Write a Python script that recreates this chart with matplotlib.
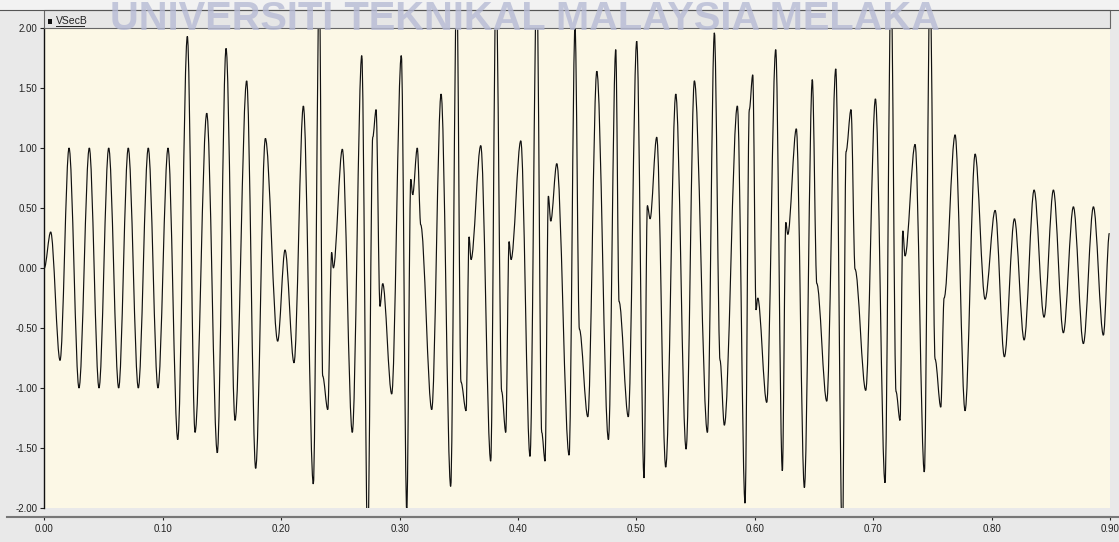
import numpy as np
import matplotlib
matplotlib.use("Agg")
import matplotlib.pyplot as plt
from matplotlib.path import Path
from matplotlib.patches import PathPatch, Rectangle
from matplotlib.lines import Line2D

# extrema (and small notches) of VSecB: time in s, value in pu
t_ext = [
    0.0000, 0.0054, 0.0133, 0.0209, 0.0293, 0.0380, 0.0462, 0.0544, 0.0628, 0.0709,
    0.0794, 0.0878, 0.0960, 0.1045, 0.1127, 0.1208, 0.1273, 0.1372, 0.1461, 0.1535,
    0.1611, 0.1709, 0.1785, 0.1867, 0.1971, 0.2033, 0.2109, 0.2188, 0.2272, 0.2323,
    0.2351, 0.2394, 0.2427, 0.2441, 0.2517, 0.2601, 0.2681, 0.2731, 0.2774, 0.2802,
    0.2835, 0.2858, 0.2934, 0.3015, 0.3061, 0.3095, 0.3111, 0.3150, 0.3179, 0.3272,
    0.3351, 0.3432, 0.3483, 0.3519, 0.3562, 0.3587, 0.3604, 0.3686, 0.3770, 0.3815,
    0.3863, 0.3897, 0.3925, 0.3942, 0.4024, 0.4102, 0.4159, 0.4201, 0.4229, 0.4257,
    0.4277, 0.4328, 0.4432, 0.4482, 0.4519, 0.4590, 0.4666, 0.4764, 0.4826, 0.4854,
    0.4932, 0.5003, 0.5065, 0.5093, 0.5116, 0.5172, 0.5248, 0.5333, 0.5420, 0.5490,
    0.5600, 0.5659, 0.5707, 0.5743, 0.5853, 0.5918, 0.5954, 0.5983, 0.6011, 0.6025,
    0.6101, 0.6177, 0.6233, 0.6262, 0.6279, 0.6351, 0.6419, 0.6486, 0.6524, 0.6608,
    0.6684, 0.6740, 0.6771, 0.6813, 0.6847, 0.6937, 0.7019, 0.7100, 0.7151, 0.7193,
    0.7227, 0.7250, 0.7269, 0.7354, 0.7432, 0.7480, 0.7523, 0.7571, 0.7599, 0.7692,
    0.7776, 0.7861, 0.7945, 0.8030, 0.8108, 0.8193, 0.8275, 0.8359, 0.8443, 0.8522,
    0.8606, 0.8691, 0.8775, 0.8860, 0.8944, 0.8995,
]
v_ext = [
    0.00, 0.30, -0.77, 1.00, -1.00, 1.00, -1.00, 1.00, -1.00, 1.00,
    -1.00, 1.00, -1.00, 1.00, -1.43, 1.93, -1.37, 1.29, -1.54, 1.83,
    -1.27, 1.56, -1.67, 1.08, -0.61, 0.15, -0.79, 1.35, -1.80, 2.40,
    -0.90, -1.18, 0.13, 0.00, 0.99, -1.37, 1.77, -2.30, 1.09, 1.32,
    -0.32, -0.13, -1.05, 1.77, -2.02, 0.74, 0.61, 1.00, 0.36, -1.18,
    1.45, -1.82, 2.40, -0.95, -1.19, 0.26, 0.07, 1.02, -1.61, 2.40,
    -1.03, -1.37, 0.22, 0.07, 1.06, -1.57, 2.40, -1.37, -1.61, 0.60,
    0.39, 0.87, -1.56, 2.02, -0.51, -1.24, 1.64, -1.43, 1.82, -0.28,
    -1.24, 1.89, -1.75, 0.52, 0.41, 1.09, -1.66, 1.45, -1.51, 1.56,
    -1.37, 1.96, -0.77, -1.31, 1.35, -1.96, 1.32, 1.61, -0.35, -0.25,
    -1.12, 1.82, -1.69, 0.38, 0.28, 1.16, -1.83, 1.57, -0.13, -1.11,
    1.66, -2.30, 0.97, 1.32, -0.01, -1.02, 1.41, -1.79, 2.40, -1.03,
    -1.27, 0.31, 0.10, 1.03, -1.70, 2.40, -0.76, -1.16, -0.25, 1.11,
    -1.19, 0.95, -0.26, 0.48, -0.74, 0.41, -0.60, 0.65, -0.41, 0.65,
    -0.54, 0.51, -0.63, 0.51, -0.56, 0.29,
]

x_ticks = [0.00, 0.10, 0.20, 0.30, 0.40, 0.50, 0.60, 0.70, 0.80, 0.90]
y_ticks = [-2.00, -1.50, -1.00, -0.50, 0.00, 0.50, 1.00, 1.50, 2.00]
series_name = "VSecB"
watermark = "UNIVERSITI TEKNIKAL MALAYSIA MELAKA"

W, H = 1119, 542
font = ["Liberation Sans", "DejaVu Sans"]

fig = plt.figure(figsize=(W / 100, H / 100), dpi=100)
fig.patch.set_facecolor("#e9e9e9")

# plot area in pixels: x 44..1110, y 28 (2.00) .. 508 (-2.00)
ax = fig.add_axes([44.3 / W, (H - 508) / H, (1110 - 44.3) / W, (508 - 28) / H])
ax.set_facecolor("#fcf8e6")

# waveform: smooth segments between the read extrema
k = 0.34
verts = [(t_ext[0], v_ext[0])]
codes = [Path.MOVETO]
for i in range(len(t_ext) - 1):
    dt = t_ext[i + 1] - t_ext[i]
    verts += [(t_ext[i] + k * dt, v_ext[i]),
              (t_ext[i + 1] - k * dt, v_ext[i + 1]),
              (t_ext[i + 1], v_ext[i + 1])]
    codes += [Path.CURVE4] * 3
wave = PathPatch(Path(verts, codes), fill=False, edgecolor="#111111", lw=0.85)
ax.add_patch(wave)
ax.set_xlim(0, 0.9)
ax.set_ylim(-2.0, 2.0)

# axes styling
for side in ["top", "right"]:
    ax.spines[side].set_visible(False)
ax.spines["left"].set_color("#111111")
ax.spines["left"].set_linewidth(1.0)
ax.spines["bottom"].set_position(("outward", 6.5))
ax.spines["bottom"].set_color("#777777")
ax.spines["bottom"].set_linewidth(1.5)

ax.set_xticks(x_ticks)
ax.set_xticklabels([f"{x:.2f}" for x in x_ticks])
ax.set_yticks(y_ticks)
ax.set_yticklabels([f"{y:.2f}" for y in y_ticks])
ax.tick_params(axis="y", direction="out", length=3, width=0.8, pad=2,
               labelsize=7, colors="#222222")
ax.tick_params(axis="x", direction="out", length=2, width=0.8, pad=3,
               labelsize=7, colors="#222222")
for lab in ax.get_xticklabels() + ax.get_yticklabels():
    lab.set_family(font)


def px(x, y):
    return x / W, 1 - y / H


# light strip above the top rule
fig.add_artist(Rectangle((0, px(0, 10)[1]), 1, 10 / H, transform=fig.transFigure,
                         facecolor="#f2f2f2", edgecolor="none"))
# full width separator under the axis and top rule
fig.add_artist(Line2D([7 / W, 1118 / W], [px(0, 517)[1]] * 2, color="#777777", lw=1.5))
fig.add_artist(Line2D([0, 1], [px(0, 10)[1]] * 2, color="#555555", lw=0.8))

# legend bar
fig.add_artist(Rectangle(px(44, 28), (1110 - 44) / W, 18 / H, transform=fig.transFigure,
                         facecolor="#e6e6e6", edgecolor="#666666", lw=0.8))
fig.add_artist(Rectangle(px(47.5, 23.5), 4 / W, 4 / H, transform=fig.transFigure,
                         facecolor="#111111", edgecolor="none"))
fig.text(*px(56, 21), series_name, fontsize=7.5, family=font, color="#222222",
         ha="left", va="center")
fig.add_artist(Line2D([56 / W, 84 / W], [px(0, 26)[1]] * 2, color="#222222", lw=0.7))

# watermark across the top, sized to span about x = 110..940 px
wm = fig.text(*px(525, 29.5), watermark, fontsize=27.5, family=font, weight="bold",
              color="#b7bbd5", alpha=0.8, ha="center", va="baseline", zorder=10)
renderer = fig.canvas.get_renderer()
span = wm.get_window_extent(renderer).width
wm.set_fontsize(27.5 * 830 / span)

fig.savefig("out.png", dpi=100, facecolor=fig.get_facecolor())
